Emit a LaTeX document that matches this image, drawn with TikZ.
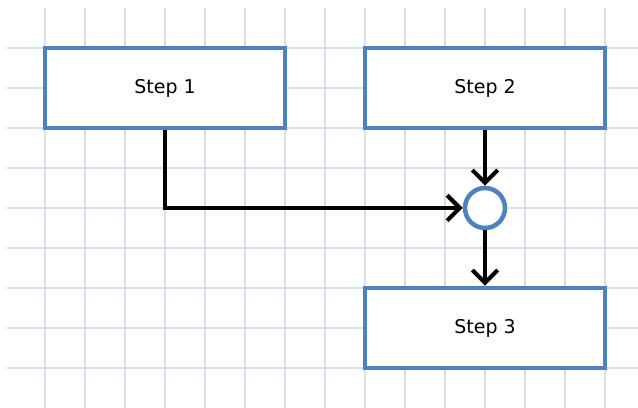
\documentclass[tikz,border=0pt]{standalone}
\usepackage{fontspec}
\setmainfont{DejaVu Sans}
\usepackage{xcolor}
\usepackage{tikz}
\usetikzlibrary{arrows.meta, positioning, calc}

\definecolor{boxblue}{HTML}{4F81BD}
\definecolor{gridblue}{HTML}{D9DEEC}

\begin{document}
\begin{tikzpicture}[
   stepbox/.style={draw=boxblue, line width=3.2pt, fill=white, minimum width=6cm, minimum height=2cm, font=\fontsize{13.5}{15}\selectfont},
   mergept/.style={circle, draw=boxblue, line width=3.2pt, fill=white, minimum size=1cm, inner sep=0pt},
   flow/.style={line width=3pt, -{Straight Barb[length=9pt, width=18pt, line width=3pt]}}
]
\useasboundingbox (0,0) rectangle (15.95,-10.2);
\fill[white] (0,0) rectangle (15.95,-10.2);

% Grid
\foreach \x in {0,...,14} {
   \draw[gridblue, line width=1pt] (1.125+\x, -0.2) -- (1.125+\x, -10.2);
}
\foreach \y in {0,...,8} {
   \draw[gridblue, line width=1pt] (0.175, -1.2-\y) -- (15.95, -1.2-\y);
}

% Steps
\node[stepbox] (step1) at (4.125, -2.2) {Step 1};
\node[stepbox] (step2) at (12.125, -2.2) {Step 2};
\node[stepbox] (step3) at (12.125, -8.2) {Step 3};
\node[mergept] (merge) at (12.125, -5.2) {};

% Connectors
\draw[flow] (step1.south) |- (merge.west);
\draw[flow] (step2.south) -- (merge.north);
\draw[flow] (merge.south) -- (step3.north);
\end{tikzpicture}
\end{document}
